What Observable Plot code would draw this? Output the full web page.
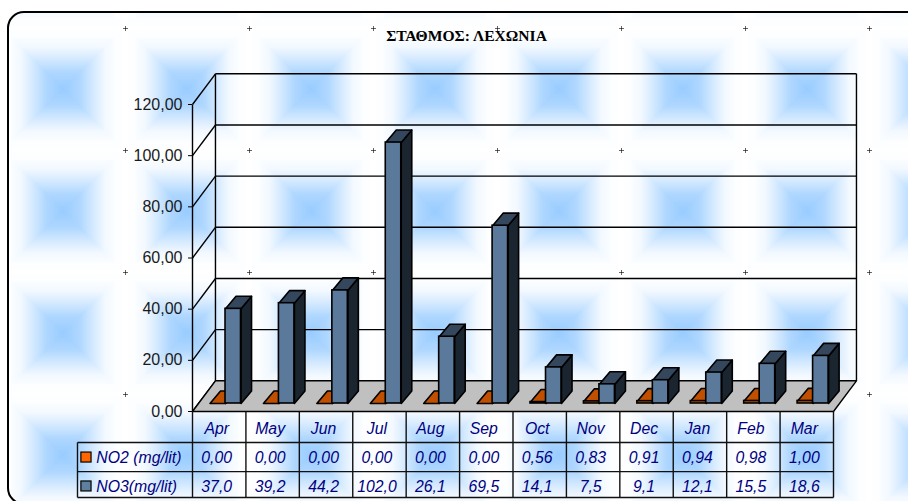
<!DOCTYPE html>
<html lang="el">
<head>
<meta charset="utf-8">
<title>ΣΤΑΘΜΟΣ: ΛΕΧΩΝΙΑ</title>
<script src="https://cdn.jsdelivr.net/npm/d3@7"></script>
<script src="https://cdn.jsdelivr.net/npm/@observablehq/plot@0.6"></script>
<style>
  html, body { margin: 0; padding: 0; background: #fff; overflow: hidden; }
  #page { position: relative; width: 908px; height: 501px; overflow: hidden; }
  #frame {
    position: absolute; left: 7px; top: 11px; width: 1000px; height: 490px;
    border: 2px solid #000; border-radius: 17px;
    background-repeat: repeat;
  }
  #chart { position: absolute; left: 0; top: 0; }
</style>
</head>
<body>
<div id="page">
  <div id="frame"></div>
  <div id="chart"></div>
</div>
<script>
const chartTitle = "ΣΤΑΘΜΟΣ: ΛΕΧΩΝΙΑ";
const months = ["Apr", "May", "Jun", "Jul", "Aug", "Sep", "Oct", "Nov", "Dec", "Jan", "Feb", "Mar"];
const no2 = [0, 0, 0, 0, 0, 0, 0.56, 0.83, 0.91, 0.94, 0.98, 1.0];
const no3 = [37.0, 39.2, 44.2, 102.0, 26.1, 69.5, 14.1, 7.5, 9.1, 12.1, 15.5, 18.6];
const no2Name = "NO2 (mg/lit)";
const no3Name = "NO3(mg/lit)";
const yTicks = [0, 20, 40, 60, 80, 100, 120];

// Wallpaper tile: a square path gradient with a small cross on its corner.
function wallpaperTile() {
  const W = 124, H = 122;
  const c = document.createElement("canvas");
  c.width = W; c.height = H;
  const g = c.getContext("2d");
  const img = g.createImageData(W, H);
  const stops = d3.scaleLinear()
    .domain([0, 17, 30, 42, 52, 62])
    .range([1, 0.78, 0.42, 0.13, 0.03, 0])
    .clamp(true);
  for (let j = 0; j < H; j++) for (let i = 0; i < W; i++) {
    const dx = Math.abs(i + 0.5 - W / 2), dy = Math.abs(j + 0.5 - H / 2);
    const m = stops(Math.max(dx, dy)), k = (j * W + i) * 4;
    img.data[k] = 255 - 102 * m;
    img.data[k + 1] = 255 - 51 * m;
    img.data[k + 2] = 255;
    img.data[k + 3] = 255;
  }
  g.putImageData(img, 0, 0);
  g.fillStyle = "rgba(0,0,0,0.6)";
  for (const [x, y] of [[0, 0], [W, 0], [0, H], [W, H]]) {
    g.fillRect(x - 2, y, 5, 1);
    g.fillRect(x, y - 2, 1, 5);
  }
  return c.toDataURL();
}
const frame = document.getElementById("frame");
frame.style.backgroundImage = `url(${wallpaperTile()})`;
frame.style.backgroundPosition = "116px 15px";

const comma = (v, digits) => v.toFixed(digits).replace(".", ",");

// Oblique projection, expressed in scale units: months along x, mg/lit along y.
const wallDX = 0.43, wallDY = 12;
const barDX = 0.197, barDY = 4.9;
const seatDX = 0.118, seatDY = 3.13;
const barWidth = 0.29;

const rows = { head: -6.65, no2: -18, no3: -29.3 };
const lines = [-12.1, -23.5, -33.6];
const tableLeft = -2.153;

function barFaces(values, x0, x1, prefix) {
  const front = [], side = [], top = [];
  values.forEach((v, i) => {
    const a = i + 0.5 + seatDX + x0, b = i + 0.5 + seatDX + x1;
    const yb = seatDY, yt = seatDY + v;
    front.push({ x1: a, x2: b, y1: yb, y2: yt });
    const s = `${prefix}${i}`;
    [[b, yb], [b + barDX, yb + barDY], [b + barDX, yt + barDY], [b, yt], [b, yb]]
      .forEach(([x, y]) => side.push({ id: s, x, y }));
    [[a, yt], [b, yt], [b + barDX, yt + barDY], [a + barDX, yt + barDY], [a, yt]]
      .forEach(([x, y]) => top.push({ id: s, x, y }));
  });
  return { front, side, top };
}

const orange = barFaces(no2, -barWidth, 0, "no2");
const steel = barFaces(no3, 0, barWidth, "no3");

const floor = [[0, 0], [12, 0], [12 + wallDX, wallDY], [wallDX, wallDY], [0, 0]]
  .map(([x, y]) => ({ x, y }));

const faceMarks = (faces, frontFill, sideFill, topFill, w) => [
  Plot.line(faces.side, { x: "x", y: "y", z: "id", fill: sideFill, stroke: "#000", strokeWidth: w }),
  Plot.line(faces.top, { x: "x", y: "y", z: "id", fill: topFill, stroke: "#000", strokeWidth: w }),
  Plot.rect(faces.front, { x1: "x1", x2: "x2", y1: "y1", y2: "y2", fill: frontFill, stroke: "#000", strokeWidth: w })
];

const tableText = { fontFamily: "Liberation Sans, Arial, sans-serif", fontStyle: "italic", fontSize: 15.8, fill: "#000080" };
const col = (_, i) => i + 0.5;
const gridColumns = d3.range(0, 13);

const plot = Plot.plot({
  width: 908,
  height: 501,
  marginLeft: 192,
  marginRight: 75,
  marginTop: 104,
  marginBottom: 90,
  style: { background: "transparent" },
  x: { domain: [0, 12], axis: null },
  y: { domain: [0, 120], axis: null },
  marks: [
    // Back wall
    Plot.link(yTicks.slice(1), {
      x1: wallDX, x2: 12 + wallDX, y1: d => d + wallDY, y2: d => d + wallDY,
      stroke: "#000", strokeWidth: 1.4
    }),
    Plot.link([wallDX, 12 + wallDX], {
      x1: d => d, x2: d => d, y1: wallDY, y2: 120 + wallDY, stroke: "#000", strokeWidth: 1.4
    }),
    // Left wall
    Plot.link(yTicks, {
      x1: 0, x2: wallDX, y1: d => d, y2: d => d + wallDY, stroke: "#000", strokeWidth: 1.4
    }),
    // Floor
    Plot.line(floor, { x: "x", y: "y", fill: "#c0c0c0", stroke: "#000", strokeWidth: 1.4 }),
    // Value axis
    Plot.axisY({
      ticks: yTicks, tickFormat: d => comma(d, 2), label: null, tickSize: 4, tickPadding: 6,
      fontSize: 16, fontFamily: "Liberation Sans, Arial, sans-serif", color: "#1a1a1a", stroke: "#000"
    }),
    Plot.link([0], { x1: 0, x2: 0, y1: 0, y2: 120, stroke: "#000", strokeWidth: 1.4 }),
    // Bars: NO2 sits left of NO3 on each month
    ...faceMarks(orange, "#c05000", "#4a2000", "#c05000", 1.6),
    ...faceMarks(steel, "#5b7a9b", "#1a2530", "#34475c", 1.6),
    // Data table
    Plot.link(gridColumns, { x1: d => d, x2: d => d, y1: 0, y2: lines[2], stroke: "#111", strokeWidth: 1.4 }),
    Plot.link(lines, { x1: tableLeft, x2: 12, y1: d => d, y2: d => d, stroke: "#111", strokeWidth: 1.4 }),
    Plot.link([tableLeft], { x1: d => d, x2: d => d, y1: lines[0], y2: lines[2], stroke: "#111", strokeWidth: 1.4 }),
    Plot.text(months, { x: col, y: rows.head, text: d => d, dx: -2.5, ...tableText }),
    Plot.text(no2, { x: col, y: rows.no2, text: d => comma(d, 2), dx: -2.5, ...tableText }),
    Plot.text(no3, { x: col, y: rows.no3, text: d => comma(d, 1), dx: -2.5, ...tableText }),
    // Series keys
    Plot.rect([{ y1: rows.no2 - 1.95, y2: rows.no2 + 1.95, fill: "#ff6600" }, { y1: rows.no3 - 1.95, y2: rows.no3 + 1.95, fill: "#5f7f9f" }], {
      x1: -2.08, x2: -1.89, y1: "y1", y2: "y2", fill: "fill", stroke: "#000", strokeWidth: 1.2
    }),
    Plot.text([{ y: rows.no2, t: no2Name }, { y: rows.no3, t: no3Name }], {
      x: -1.8, y: "y", text: "t", textAnchor: "start", ...tableText
    }),
    // Chart title
    Plot.text([chartTitle], {
      x: 5.13, y: 146.6, text: d => d,
      fontFamily: "Liberation Serif, Times New Roman, serif", fontWeight: "bold", fontSize: 15.6, fill: "#000"
    })
  ]
});
document.getElementById("chart").append(plot);
</script>
</body>
</html>
